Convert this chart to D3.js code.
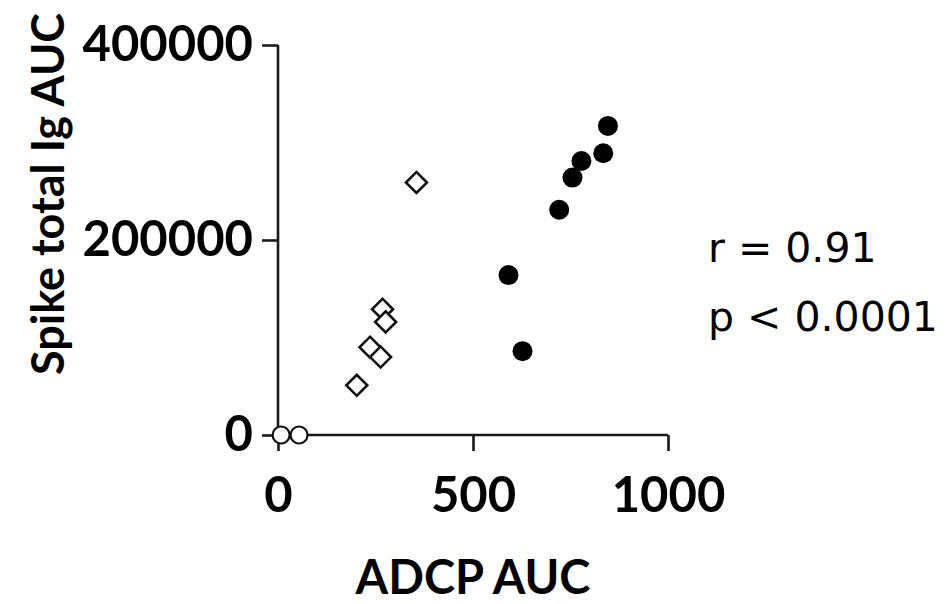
<!DOCTYPE html>
<html>
<head>
<meta charset="utf-8">
<script src="https://cdn.jsdelivr.net/npm/d3@7"></script>
<style>
  body { margin: 0; background: #fff; }
</style>
</head>
<body>
<svg id="chart"></svg>
<script>
// groups
const openX = [8, 54];
const openY = [0, 0];

const diamondX = [355, 268, 276, 236, 263, 202];
const diamondY = [259000, 129000, 116000, 90000, 80000, 51000];

const filledX = [846, 834, 778, 755, 721, 591, 627];
const filledY = [317000, 289000, 281000, 264000, 231000, 164000, 86000];

const xTicks = [0, 500, 1000];
const yTicks = [0, 200000, 400000];
const statsLines = ["r = 0.91", "p < 0.0001"];

const W = 946, H = 604;

const svg = d3.select("#chart")
  .attr("width", W)
  .attr("height", H);

const x = d3.scaleLinear().domain([0, 1000]).range([278, 668]);
const y = d3.scaleLinear().domain([0, 400000]).range([435, 45]);

const boldFont = "Lato, 'Open Sans', sans-serif";

// axes
const xAxis = d3.axisBottom(x)
  .tickValues(xTicks)
  .tickFormat(d3.format("d"))
  .tickSize(16)
  .tickPadding(26);

const yAxis = d3.axisLeft(y)
  .tickValues(yTicks)
  .tickFormat(d3.format("d"))
  .tickSize(16)
  .tickPadding(9);

const gx = svg.append("g")
  .attr("transform", `translate(0, ${y(0)})`)
  .call(xAxis);

const gy = svg.append("g")
  .attr("transform", `translate(${x(0)}, 0)`)
  .call(yAxis);

[gx, gy].forEach(g => {
  g.select(".domain").attr("stroke", "#1a1a1a").attr("stroke-width", 2.6);
  g.selectAll(".tick line").attr("stroke", "#1a1a1a").attr("stroke-width", 2.6);
  g.selectAll(".tick text")
    .attr("fill", "#000")
    .style("font-family", boldFont)
    .style("font-weight", "bold")
    .style("font-size", "49px");
});
// GraphPad style: no outer end caps
gx.select(".domain").attr("d", `M${x(0)},0H${x(1000)}`);
gy.select(".domain").attr("d", `M0,${y(0)}V${y(400000)}`);

// axis titles
svg.append("text")
  .attr("x", 473)
  .attr("y", 594)
  .attr("text-anchor", "middle")
  .style("font-family", boldFont)
  .style("font-weight", "bold")
  .style("font-size", "47px")
  .text("ADCP AUC");

svg.append("text")
  .attr("transform", "translate(64, 194) rotate(-90)")
  .attr("text-anchor", "middle")
  .style("font-family", boldFont)
  .style("font-weight", "bold")
  .style("font-size", "45px")
  .text("Spike total Ig AUC");

// points
const diamond = d3.symbol().type(d3.symbolSquare).size(220);

svg.append("g")
  .selectAll("path")
  .data(diamondX.map((d, i) => ({ x: d, y: diamondY[i] })))
  .join("path")
  .attr("d", diamond)
  .attr("transform", d => `translate(${x(d.x)}, ${y(d.y)}) rotate(45)`)
  .attr("fill", "#fff")
  .attr("stroke", "#111")
  .attr("stroke-width", 2.6);

svg.append("g")
  .selectAll("circle")
  .data(filledX.map((d, i) => ({ x: d, y: filledY[i] })))
  .join("circle")
  .attr("cx", d => x(d.x))
  .attr("cy", d => y(d.y))
  .attr("r", 10)
  .attr("fill", "#000");

svg.append("g")
  .selectAll("circle")
  .data(openX.map((d, i) => ({ x: d, y: openY[i] })))
  .join("circle")
  .attr("cx", d => x(d.x))
  .attr("cy", d => y(d.y))
  .attr("r", 8.5)
  .attr("fill", "#fff")
  .attr("stroke", "#111")
  .attr("stroke-width", 2.2);

// correlation stats
svg.append("g")
  .selectAll("text")
  .data(statsLines)
  .join("text")
  .attr("x", 708)
  .attr("y", (d, i) => 262 + i * 69)
  .style("font-family", "'DejaVu Sans', sans-serif")
  .style("font-size", "41px")
  .attr("fill", "#000")
  .text(d => d);
</script>
</body>
</html>
